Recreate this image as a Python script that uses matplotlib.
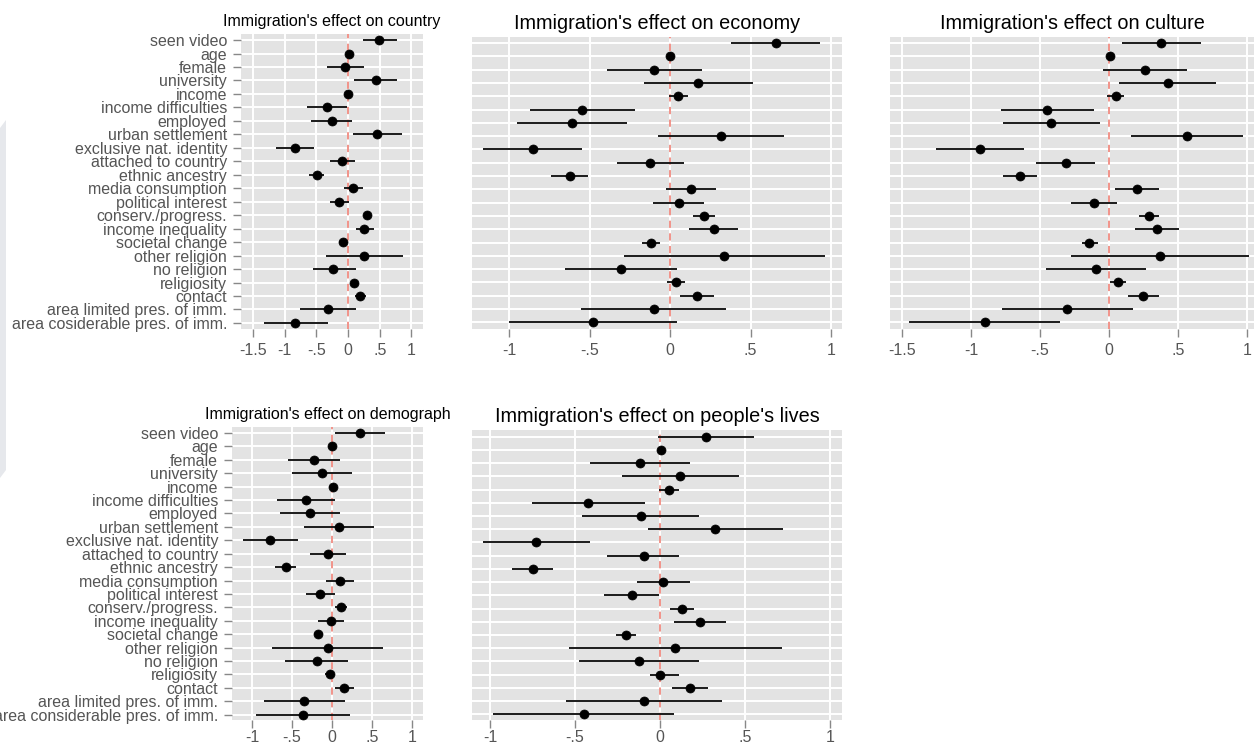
import matplotlib
matplotlib.use("Agg")
import matplotlib.pyplot as plt
from matplotlib.patches import Polygon

plt.rcParams['font.family'] = ['Liberation Sans', 'DejaVu Sans']

labels_top = ["seen video", "age", "female", "university", "income", "income difficulties",
              "employed", "urban settlement", "exclusive nat. identity", "attached to country",
              "ethnic ancestry", "media consumption", "political interest", "conserv./progress.",
              "income inequality", "societal change", "other religion", "no religion",
              "religiosity", "contact", "area limited pres. of imm.", "area cosiderable pres. of imm."]
labels_bottom = labels_top[:-1] + ["area considerable pres. of imm."]

# Immigration's effect on country
country_est = [0.495, 0.01, -0.04, 0.44, 0.0, -0.33, -0.26, 0.46, -0.84, -0.09, -0.49, 0.08,
               -0.14, 0.30, 0.26, -0.08, 0.25, -0.23, 0.10, 0.195, -0.32, -0.83]
country_lo = [0.23, 0.0, -0.33, 0.10, -0.01, -0.65, -0.59, 0.08, -1.14, -0.29, -0.61, -0.07,
              -0.29, 0.26, 0.12, -0.14, -0.35, -0.56, 0.06, 0.105, -0.75, -1.33]
country_hi = [0.77, 0.02, 0.25, 0.77, 0.01, -0.02, 0.07, 0.85, -0.53, 0.105, -0.38, 0.23,
              0.01, 0.34, 0.41, -0.02, 0.86, 0.12, 0.14, 0.29, 0.13, -0.32]

# Immigration's effect on economy
economy_est = [0.656, 0.0, -0.098, 0.176, 0.05, -0.546, -0.608, 0.317, -0.853, -0.122, -0.624,
               0.131, 0.054, 0.214, 0.27, -0.116, 0.338, -0.303, 0.037, 0.166, -0.102, -0.479]
economy_lo = [0.378, -0.01, -0.39, -0.162, -0.008, -0.871, -0.948, -0.073, -1.162, -0.33, -0.74,
              -0.025, -0.106, 0.145, 0.12, -0.172, -0.284, -0.651, -0.019, 0.062, -0.552, -1.002]
economy_hi = [0.934, 0.01, 0.197, 0.515, 0.11, -0.218, -0.268, 0.707, -0.546, 0.087, -0.508,
              0.286, 0.214, 0.282, 0.421, -0.06, 0.963, 0.046, 0.095, 0.272, 0.349, 0.041]

# Immigration's effect on culture
culture_est = [0.378, 0.005, 0.258, 0.427, 0.048, -0.446, -0.417, 0.569, -0.937, -0.313, -0.648,
               0.205, -0.111, 0.289, 0.347, -0.142, 0.371, -0.094, 0.065, 0.248, -0.304, -0.901]
culture_lo = [0.092, -0.005, -0.046, 0.072, -0.014, -0.783, -0.769, 0.161, -1.255, -0.53, -0.769,
              0.046, -0.275, 0.219, 0.19, -0.198, -0.272, -0.455, 0.007, 0.14, -0.773, -1.446]
culture_hi = [0.667, 0.015, 0.564, 0.778, 0.111, -0.106, -0.067, 0.973, -0.617, -0.099, -0.525,
              0.366, 0.055, 0.359, 0.504, -0.082, 1.014, 0.267, 0.125, 0.359, 0.171, -0.354]

# Immigration's effect on demograph
demo_est = [0.354, 0.004, -0.225, -0.129, 0.008, -0.325, -0.271, 0.0875, -0.771, -0.054, -0.575,
            0.10, -0.146, 0.108, -0.0125, -0.171, -0.054, -0.1875, -0.029, 0.154, -0.35, -0.3625]
demo_lo = [0.042, -0.006, -0.546, -0.50, -0.04, -0.688, -0.646, -0.354, -1.113, -0.279, -0.708,
           -0.071, -0.321, 0.042, -0.179, -0.229, -0.75, -0.583, -0.083, 0.042, -0.854, -0.946]
demo_hi = [0.667, 0.014, 0.104, 0.25, 0.05, 0.042, 0.104, 0.52, -0.429, 0.175, -0.45,
           0.271, 0.033, 0.1875, 0.154, -0.1125, 0.6375, 0.204, 0.021, 0.271, 0.158, 0.229]

# Immigration's effect on people's lives
lives_est = [0.269, 0.006, -0.12, 0.12, 0.051, -0.422, -0.114, 0.325, -0.727, -0.096, -0.749,
             0.02, -0.167, 0.131, 0.235, -0.20, 0.09, -0.122, 0.0, 0.178, -0.094, -0.449]
lives_lo = [-0.012, -0.004, -0.414, -0.225, -0.008, -0.753, -0.457, -0.071, -1.041, -0.31, -0.871,
            -0.137, -0.329, 0.061, 0.084, -0.257, -0.537, -0.476, -0.057, 0.071, -0.555, -0.982]
lives_hi = [0.551, 0.016, 0.178, 0.467, 0.112, -0.09, 0.231, 0.724, -0.414, 0.114, -0.629,
            0.176, -0.004, 0.20, 0.386, -0.143, 0.72, 0.231, 0.11, 0.282, 0.365, 0.082]

ticks_wide = [-1.5, -1, -0.5, 0, 0.5, 1]
ticks_narrow = [-1, -0.5, 0, 0.5, 1]
tick_text = {-1.5: "-1.5", -1: "-1", -0.5: "-.5", 0: "0", 0.5: ".5", 1: "1"}

W, H = 1254, 745
fig = plt.figure(figsize=(W / 100, H / 100), dpi=100)

def px_axes(l, r, t, b):
    return fig.add_axes([l / W, 1 - b / H, (r - l) / W, (b - t) / H])

panels = [
    dict(box=(241, 423, 34, 329), title="Immigration's effect on country", tsize=11.5,
         est=country_est, lo=country_lo, hi=country_hi, xlim=(-1.688, 1.183),
         ylim=(22.45, 0.55), ticks=ticks_wide, labels=labels_top, xpad=4),
    dict(box=(472, 842, 37, 329), title="Immigration's effect on economy", tsize=14.3,
         est=economy_est, lo=economy_lo, hi=economy_hi, xlim=(-1.230, 1.068),
         ylim=(22.5, 0.55), ticks=ticks_narrow, labels=None, xpad=4),
    dict(box=(890, 1254, 37, 329), title="Immigration's effect on culture", tsize=14.3,
         est=culture_est, lo=culture_lo, hi=culture_hi, xlim=(-1.587, 1.051),
         ylim=(22.5, 0.55), ticks=ticks_wide, labels=None, xpad=4),
    dict(box=(232, 423, 427, 720), title="Immigration's effect on demograph", tsize=11.5,
         est=demo_est, lo=demo_lo, hi=demo_hi, xlim=(-1.25, 1.1375),
         ylim=(22.4, 0.55), ticks=ticks_narrow, labels=labels_bottom, xpad=1.5),
    dict(box=(472, 842, 430, 720), title="Immigration's effect on people's lives", tsize=14.3,
         est=lives_est, lo=lives_lo, hi=lives_hi, xlim=(-1.106, 1.071),
         ylim=(22.43, 0.49), ticks=ticks_narrow, labels=None, xpad=1.5),
]

bg = '#e3e3e3'
txt_gray = '#555555'
for p in panels:
    ax = px_axes(*p['box'])
    ax.set_facecolor(bg)
    for s in ax.spines.values():
        s.set_visible(False)
    rows = list(range(1, len(p['est']) + 1))
    ax.set_xlim(*p['xlim'])
    ax.set_ylim(*p['ylim'])
    ax.set_xticks(p['ticks'])
    ax.set_xticklabels([tick_text[t] for t in p['ticks']])
    ax.set_yticks(rows)
    ax.set_axisbelow(True)
    ax.grid(True, axis='both', color='white', lw=1.4)
    ax.tick_params(axis='x', length=6, width=1, color='#888888', pad=p['xpad'],
                   labelsize=11.5, labelcolor=txt_gray)
    if p['labels'] is not None:
        ax.set_yticklabels(p['labels'])
        ax.tick_params(axis='y', length=6, width=1, color='#888888', pad=4,
                       labelsize=11.5, labelcolor=txt_gray)
    else:
        ax.tick_params(axis='y', length=0, labelleft=False)
    ax.axvline(0, color='#f08a80', lw=1.3, ls=(0, (4, 3)), zorder=2)
    ax.hlines(rows, p['lo'], p['hi'], color='#1a1a1a', lw=1.4, zorder=3)
    ax.plot(p['est'], rows, 'o', color='black', ms=6.5, mew=0.5, zorder=4)
    ax.set_title(p['title'], fontsize=p['tsize'], color='black', pad=5.5)

# faint grey band on the left edge
band = Polygon([[0 / W, 1 - 128 / H], [6 / W, 1 - 120 / H], [6 / W, 1 - 470 / H], [0 / W, 1 - 478 / H]],
               closed=True, transform=fig.transFigure, facecolor='#e6e8ec', edgecolor='none')
fig.patches.append(band)

fig.savefig('out.png', dpi=100, facecolor='white')
